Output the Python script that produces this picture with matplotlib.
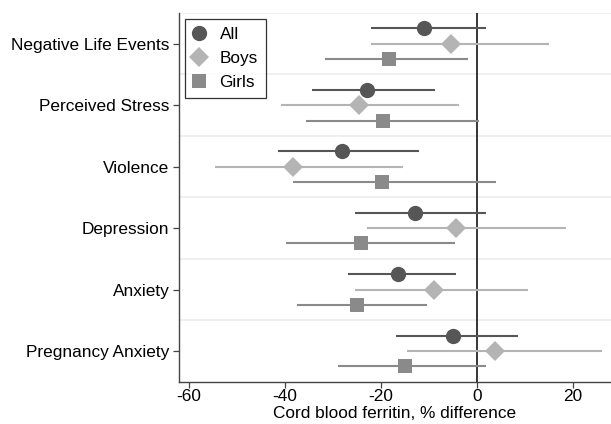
import matplotlib
matplotlib.use("Agg")
import matplotlib.pyplot as plt
import numpy as np

plt.rcParams['font.family'] = ['Liberation Sans', 'DejaVu Sans']

# outcomes, top to bottom
outcomes = ["Negative Life Events", "Perceived Stress", "Violence",
            "Depression", "Anxiety", "Pregnancy Anxiety"]

# % difference in cord blood ferritin (estimate, lower CI, upper CI)
all_est = [-10.9, -22.8, -28.2, -12.8, -16.4, -4.9]
all_lo = [-22.0, -34.4, -41.4, -25.4, -26.8, -16.8]
all_hi = [1.9, -8.8, -12.1, 2.0, -4.3, 8.7]

boys_est = [-5.3, -24.5, -38.3, -4.4, -9.0, 3.9]
boys_lo = [-22.0, -40.8, -54.7, -22.9, -25.3, -14.6]
boys_hi = [15.0, -3.6, -15.4, 18.7, 10.7, 26.1]

girls_est = [-18.2, -19.6, -19.8, -24.2, -25.0, -15.0]
girls_lo = [-31.6, -35.6, -38.3, -39.8, -37.4, -29.0]
girls_hi = [-1.9, 0.4, 4.0, -4.6, -10.3, 1.9]

groups = [
    ("All", all_est, all_lo, all_hi, "#565656", "o", 11, -0.25),
    ("Boys", boys_est, boys_lo, boys_hi, "#b4b4b4", "D", 10, 0.0),
    ("Girls", girls_est, girls_lo, girls_hi, "#8a8a8a", "s", 9.4, 0.25),
]

fig = plt.figure(figsize=(6.11, 4.24), dpi=100)
ax = fig.add_axes([0.293, 0.0998, 0.707, 0.8695])

rows = np.arange(len(outcomes))

# light separators between the outcome rows
for y in np.arange(-0.5, len(outcomes) - 0.5):
    ax.axhline(y, color="#ececec", lw=1.2, zorder=0)

ax.axvline(0, color="black", lw=1.1, zorder=1)

for name, est, lo, hi, col, mk, ms, off in groups:
    ys = rows + off
    ax.hlines(ys, lo, hi, color=col, lw=1.5, zorder=2)
    ax.plot(est, ys, linestyle="none", marker=mk, markersize=ms,
            color=col, markeredgewidth=0, zorder=3, label=name)

ax.set_xlim(-62.1, 28.0)
ax.set_ylim(len(outcomes) - 0.5, -0.5)
ax.set_yticks(rows)
ax.set_yticklabels(outcomes)
ax.set_xticks([-60, -40, -20, 0, 20])
ax.set_xticklabels(["-60", "-40", "-20", "0", "20"])
ax.set_xlabel("Cord blood ferritin, % difference", fontsize=12.4, labelpad=1)

ax.tick_params(axis="both", labelsize=12.4, length=4, width=0.9,
               color="#444444", pad=3)
ax.tick_params(axis="x", pad=1.5)
for side in ["top", "right"]:
    ax.spines[side].set_visible(False)
for side in ["left", "bottom"]:
    ax.spines[side].set_color("#444444")
    ax.spines[side].set_linewidth(1.0)

leg = ax.legend(loc="upper left", bbox_to_anchor=(0.014, 0.985), fontsize=12.4,
                frameon=True, fancybox=False, edgecolor="black",
                handletextpad=0.9, borderpad=0.5, labelspacing=0.5,
                handlelength=0.6, borderaxespad=0)
leg.get_frame().set_linewidth(0.9)

fig.savefig("out.png", dpi=100)
